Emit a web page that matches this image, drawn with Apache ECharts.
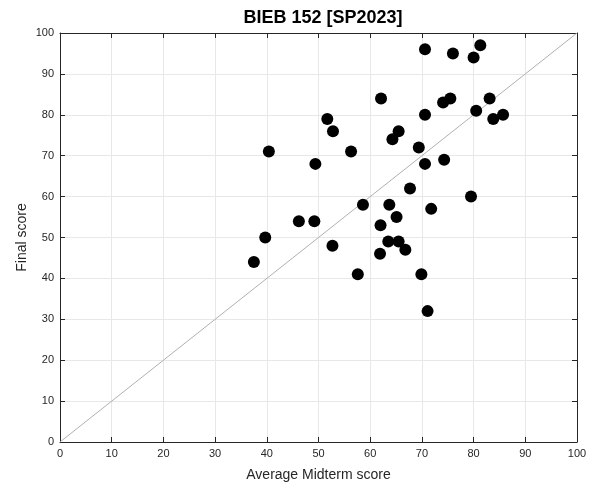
<!DOCTYPE html>
<html><head><meta charset="utf-8">
<script src="https://cdn.jsdelivr.net/npm/echarts@6/dist/echarts.min.js"></script>
<style>html,body{margin:0;padding:0;background:#fff}#c{width:594px;height:487px}</style>
</head><body><div id="c"></div>
<script>
const titleText = "BIEB 152 [SP2023]";
const xName = "Average Midterm score";
const yName = "Final score";
const midterm = [70.6,76.0,80.0,81.3,62.1,74.1,75.5,83.1,70.6,80.5,83.8,85.7,51.7,52.8,65.5,64.3,69.4,40.4,56.3,49.4,70.6,74.3,
  67.7,79.5,58.6,63.7,71.8,46.2,49.2,65.1,62.0,39.7,63.5,65.5,52.7,66.8,61.9,37.5,57.6,69.9,71.1];
const finalScore = [96,95,94,97,84,83,84,84,80,81,79,80,79,76,76,74,72,71,71,68,68,69,
  62,60,58,58,57,54,54,55,53,50,49,49,48,47,46,44,41,41,32];
const diagonal = [[0,0],[100,100]];
const axisMin = 0, axisMax = 100, axisStep = 10;

const pts = midterm.map((x,i)=>[x, finalScore[i]]);
const chart = echarts.init(document.getElementById('c'), null, {renderer:'canvas'});
const font = 'Liberation Sans, Arial, Helvetica, sans-serif';
const axisBase = {
  min: axisMin, max: axisMax, interval: axisStep, type:'value',
  axisLine:{show:true, onZero:false, lineStyle:{color:'#262626', width:1}},
  axisTick:{show:true, inside:true, length:5, lineStyle:{color:'#262626'}},
  axisLabel:{color:'#262626', fontSize:11, fontFamily:font},
  splitLine:{show:true, lineStyle:{color:'#e8e8e8', width:1}}
};
chart.setOption({
  animation:false,
  backgroundColor:'#fff',
  title:{text:titleText, left:318, top:4, textAlign:'center',
    textStyle:{fontFamily:font, fontSize:18, fontWeight:'bold', color:'#000'}},
  grid:{left:60, right:17, top:33, bottom:44, containLabel:false},
  xAxis:[
    Object.assign({}, axisBase, {position:'bottom', name:xName, nameLocation:'middle', nameGap:26,
      nameMoveOverlap:false,
      nameTextStyle:{fontFamily:font, fontSize:14, color:'#262626'},
      axisLabel:{color:'#262626', fontSize:11, fontFamily:font, margin:6}}),
    Object.assign({}, axisBase, {position:'top', axisLabel:{show:false}, splitLine:{show:false}})
  ],
  yAxis:[
    Object.assign({}, axisBase, {position:'left', name:yName, nameLocation:'middle', nameGap:31,
      nameMoveOverlap:false,
      nameTextStyle:{fontFamily:font, fontSize:14, color:'#262626'},
      axisLabel:{color:'#262626', fontSize:11, fontFamily:font, margin:6}}),
    Object.assign({}, axisBase, {position:'right', axisLabel:{show:false}, splitLine:{show:false}})
  ],
  series:[
    {type:'line', data:diagonal, showSymbol:false, symbol:'none',
      lineStyle:{color:'#b0b0b0', width:1}, silent:true, z:1},
    {type:'scatter', data:pts, symbol:'circle', symbolSize:12,
      itemStyle:{color:'#000', opacity:1}, z:3}
  ]
});
</script></body></html>
